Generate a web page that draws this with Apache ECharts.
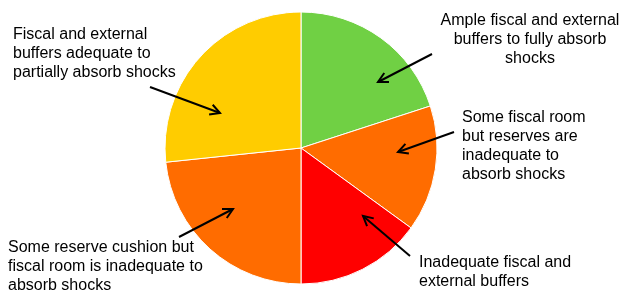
<!DOCTYPE html>
<html>
<head>
<meta charset="utf-8">
<script src="https://cdn.jsdelivr.net/npm/echarts@6/dist/echarts.min.js"></script>
<style>
    html, body { margin: 0; padding: 0; background: #fff; }
    #chart { width: 624px; height: 292px; }
</style>
</head>
<body>
<div id="chart"></div>
<script>
// 分类与数值（按顺时针，从12点方向开始）
const categories = [
    'Ample fiscal and external\nbuffers to fully absorb\nshocks',
    'Some fiscal room\nbut reserves are\ninadequate to\nabsorb shocks',
    'Inadequate fiscal and\nexternal buffers',
    'Some reserve cushion but\nfiscal room is inadequate to\nabsorb shocks',
    'Fiscal and external\nbuffers adequate to\npartially absorb shocks'
];
const values = [12, 9, 9, 14, 16];
const colors = ['#70D044', '#FF6C00', '#FF0000', '#FF6C00', '#FFCC00'];

// 标注文字位置与箭头（尾 -> 头）
const labelPos = [
    { x: 530, y: 11, align: 'center' },
    { x: 462, y: 108, align: 'left' },
    { x: 419, y: 253, align: 'left' },
    { x: 8, y: 238, align: 'left' },
    { x: 13, y: 25, align: 'left' }
];
const arrows = [
    [[432, 54], [378, 82]],
    [[454, 132], [398, 152]],
    [[410, 256], [363, 216]],
    [[179, 237], [233, 209]],
    [[150, 87], [220, 113]]
];

const chart = echarts.init(document.getElementById('chart'));

// 生成箭头图形
function arrowGraphics(from, to) {
    const ang = Math.atan2(to[1] - from[1], to[0] - from[0]);
    const len = 11, spread = 28 * Math.PI / 180;
    const a1 = [to[0] - len * Math.cos(ang - spread), to[1] - len * Math.sin(ang - spread)];
    const a2 = [to[0] - len * Math.cos(ang + spread), to[1] - len * Math.sin(ang + spread)];
    const style = { stroke: '#000', lineWidth: 2, fill: null };
    return [
        { type: 'line', shape: { x1: from[0], y1: from[1], x2: to[0], y2: to[1] }, style: style, z: 10 },
        { type: 'polyline', shape: { points: [a1, to, a2] }, style: style, z: 10 }
    ];
}

let graphics = [];
categories.forEach((name, i) => {
    graphics.push({
        type: 'text',
        x: labelPos[i].x,
        y: labelPos[i].y,
        z: 10,
        style: {
            text: name,
            font: '16px "Liberation Sans", Arial, sans-serif',
            lineHeight: 19,
            fill: '#000',
            align: labelPos[i].align,
            verticalAlign: 'top'
        }
    });
    graphics = graphics.concat(arrowGraphics(arrows[i][0], arrows[i][1]));
});

const option = {
    animation: false,
    series: [{
        type: 'pie',
        center: [301, 148],
        radius: 136,
        startAngle: 90,
        clockwise: true,
        label: { show: false },
        labelLine: { show: false },
        itemStyle: { borderColor: '#fff', borderWidth: 1 },
        data: categories.map((name, i) => ({
            name: name,
            value: values[i],
            itemStyle: { color: colors[i] }
        }))
    }],
    graphic: graphics
};

chart.setOption(option);
</script>
</body>
</html>
